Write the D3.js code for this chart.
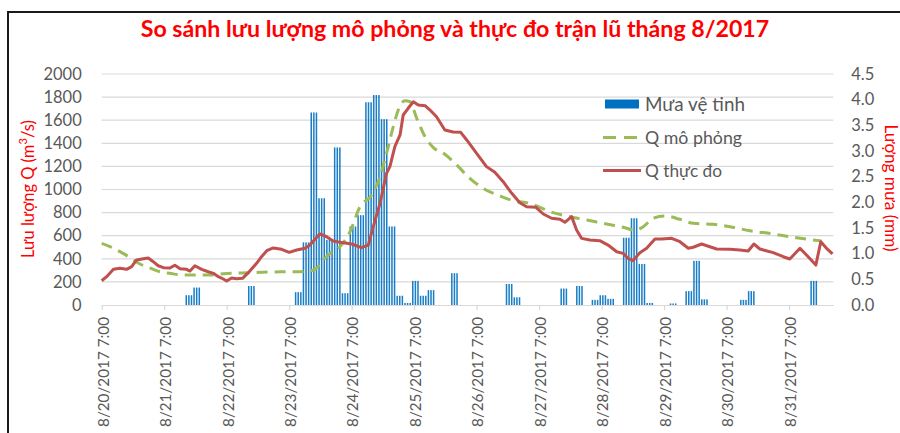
<!DOCTYPE html>
<html>
<head>
<meta charset="utf-8">
<script src="https://cdn.jsdelivr.net/npm/d3@7"></script>
<style>
  body { margin: 0; background: #fff; }
  text { font-family: Lato, "Noto Sans", sans-serif; }
</style>
</head>
<body>
<div id="chart"></div>
<script>
// tick labels on the time axis (one per day)
var dayLabels = ["8/20/2017 7:00", "8/21/2017 7:00", "8/22/2017 7:00", "8/23/2017 7:00",
                 "8/24/2017 7:00", "8/25/2017 7:00", "8/26/2017 7:00", "8/27/2017 7:00",
                 "8/28/2017 7:00", "8/29/2017 7:00", "8/30/2017 7:00", "8/31/2017 7:00"];

var qTicks = [0, 200, 400, 600, 800, 1000, 1200, 1400, 1600, 1800, 2000];
var rainTicks = [0, 0.5, 1, 1.5, 2, 2.5, 3, 3.5, 4, 4.5];

// satellite rain (mm), one value per 3 hours, first block starts 8/20 9:00 (hour 2)
var rain3h = [0, 0, 0, 0, 0, 0, 0, 0, 0, 0,
              0.19, 0.34, 0, 0, 0, 0, 0, 0, 0.37, 0,
              0, 0, 0, 0, 0.25, 1.22, 3.75, 2.08, 1.27, 3.07,
              0.23, 1.53, 1.75, 3.95, 4.09, 3.62, 1.53, 0.18, 0.04, 0.47,
              0.18, 0.29, 0, 0, 0.62, 0, 0, 0, 0, 0,
              0, 0.41, 0.15, 0, 0, 0, 0, 0, 0.32, 0,
              0.37, 0, 0.1, 0.19, 0.12, 0, 1.31, 1.69, 0.8, 0.04,
              0, 0, 0.03, 0, 0.27, 0.86, 0.11, 0, 0, 0,
              0, 0.1, 0.27, 0, 0, 0, 0, 0, 0, 0,
              0.47, 0, 0];

// simulated discharge (hours after 8/20 7:00, m3/s)
var simHour = [0, 3.2, 7.7, 10.9, 14.7, 17.9, 22.4, 26.2, 31.3, 41.6, 46.7, 57, 64.6, 72.3, 78.7,
               81.9, 85.1, 87.7, 91.5, 95.4, 99.2, 103.7, 106.9, 109.4, 112, 113.9, 116.5, 118.4,
               121, 124.2, 127.3, 131.8, 135.7, 141.4, 146.5, 153, 158.1, 163.2, 168.3, 172.2,
               178.6, 186.3, 193.9, 200.3, 204.8, 208, 211.8, 216.3, 222.1, 227.2, 234.9, 241.3,
               249, 257.9, 265.6, 273.3, 276.5];
var simQ = [534, 505, 453, 410, 355, 326, 288, 274, 260, 260, 271, 280, 286, 288, 292,
            309, 390, 447, 505, 635, 851, 952, 1111, 1313, 1544, 1688, 1769, 1760,
            1616, 1457, 1365, 1305, 1227, 1097, 1010, 944, 903, 886, 846, 808,
            771, 736, 701, 673, 649, 678, 751, 771, 742, 707, 699, 678,
            643, 615, 586, 563, 554];

// observed discharge (hours after 8/20 7:00, m3/s)
var obsHour = [0, 1.9, 4.5, 7, 9.6, 11.5, 13.4, 16, 17.9, 19.8, 21.7, 23.7, 26.2, 28.1, 30.1,
               32.6, 33.9, 35.8, 38.4, 40.9, 42.9, 44.8, 46.7, 48, 49.9, 51.8, 54.1, 56.3, 59.5,
               61.4, 63.4, 65.9, 69.1, 72, 74.9, 78.1, 80, 81.9, 83.8, 86.4, 88.9, 90.9, 96,
               99.8, 102.4, 104.3, 106.9, 109.4, 110.7, 112.6, 114.6, 115.8, 117.7, 119.7, 121.6,
               124.2, 126.1, 128.6, 131.8, 135, 137.9, 140.2, 144, 147.8, 151, 154.2, 157.5,
               160.6, 163.2, 166.8, 169.6, 172.8, 176, 177.9, 180.5, 182.4, 184.3, 187.5, 191.3,
               194.5, 197.8, 200.3, 202.2, 204.1, 206.7, 209.3, 212.5, 215.1, 218.9, 222.1, 225.3,
               227.2, 230.4, 236.2, 241.3, 245.1, 248.3, 250.5, 252.8, 257.9, 261.8, 264.3, 268.2,
               270.7, 274.3, 276.2, 278.4, 280.7];
var obsQ = [210, 245, 309, 318, 309, 332, 390, 401, 407, 375, 340, 323, 320, 344, 314,
            309, 294, 340, 309, 288, 274, 245, 225, 208, 234, 228, 231, 280, 361,
            418, 470, 494, 482, 456, 476, 491, 519, 569, 615, 591, 554, 545, 528,
            496, 519, 678, 880, 1140, 1198, 1371, 1472, 1645, 1703, 1760, 1732,
            1726, 1688, 1630, 1515, 1498, 1495, 1429, 1313, 1198, 1149, 1068, 967,
            886, 851, 846, 788, 751, 742, 716, 765, 649, 577, 563, 557,
            519, 461, 447, 404, 384, 453, 491, 571, 571, 577, 548, 491,
            500, 528, 485, 482, 476, 467, 528, 485, 453, 418, 398, 491,
            433, 346, 548, 491, 442];

var legendNames = ["Mưa vệ tinh", "Q mô phỏng", "Q thực đo"];

var W = 900, H = 433;
var plot = { left: 101.7, right: 833.3, top: 74, bottom: 305 };
var grey = "#595959", red = "#FF0000";
var obsColor = "#C0504D", simColor = "#9BBB59", rainColor = "#0070C0";

var svg = d3.select("#chart").append("svg")
    .attr("width", W).attr("height", H);

var x = d3.scaleLinear().domain([0, 281]).range([plot.left, plot.right]);
var yQ = d3.scaleLinear().domain([0, 2000]).range([plot.bottom, plot.top]);
var yR = d3.scaleLinear().domain([0, 4.5]).range([plot.bottom, plot.top]);

// shrink or grow the font so a text gets the width it has in the picture
function fit(sel, width) {
    var fs = parseFloat(sel.attr("font-size"));
    var w = sel.node().getComputedTextLength();
    sel.attr("font-size", (fs * width / w).toFixed(2));
    return sel;
}

// frame
svg.append("rect")
    .attr("x", 8).attr("y", 12).attr("width", 900).attr("height", 440)
    .attr("fill", "none").attr("stroke", "#1a1a1a").attr("stroke-width", 2);

// title
fit(svg.append("text")
    .attr("x", 455).attr("y", 37)
    .attr("text-anchor", "middle")
    .attr("font-size", 20).attr("font-weight", "bold")
    .attr("fill", red)
    .text("So sánh lưu lượng mô phỏng và thực đo trận lũ tháng 8/2017"), 629);

// gridlines
svg.append("g").selectAll("line")
    .data(qTicks.slice(1))
    .enter().append("line")
    .attr("x1", plot.left).attr("x2", plot.right)
    .attr("y1", function (d) { return yQ(d); })
    .attr("y2", function (d) { return yQ(d); })
    .attr("stroke", "#D9D9D9").attr("stroke-width", 1.2);

// left axis
var leftAxis = svg.append("g")
    .attr("transform", "translate(" + (plot.left - 20) + ",0)")
    .call(d3.axisLeft(yQ).tickValues(qTicks).tickSize(0).tickPadding(0)
          .tickFormat(d3.format("d")));
leftAxis.select(".domain").remove();
leftAxis.selectAll("text")
    .attr("font-size", 16.5).attr("fill", grey)
    .style("font-family", "Lato, 'Noto Sans', sans-serif");

// right axis
var rightAxis = svg.append("g")
    .attr("transform", "translate(" + (plot.right + 18) + ",0)")
    .call(d3.axisRight(yR).tickValues(rainTicks).tickSize(0).tickPadding(0)
          .tickFormat(d3.format(".1f")));
rightAxis.select(".domain").remove();
rightAxis.selectAll("text")
    .attr("font-size", 16.5).attr("fill", grey)
    .style("font-family", "Lato, 'Noto Sans', sans-serif");

// rain bars: three hourly bars for each 3-hour value
var rainHourly = [];
rain3h.forEach(function (v, k) {
    for (var j = 0; j < 3; j++) {
        if (v > 0) rainHourly.push({ hour: 2 + 3 * k + j, rain: v });
    }
});
var step = x(1) - x(0);
svg.append("g").selectAll("rect")
    .data(rainHourly)
    .enter().append("rect")
    .attr("x", function (d) { return x(d.hour) + 0.5; })
    .attr("width", step * 0.58)
    .attr("y", function (d) { return yR(d.rain); })
    .attr("height", function (d) { return plot.bottom - yR(d.rain); })
    .attr("fill", rainColor).attr("opacity", 0.9);

// x axis
var xAxis = svg.append("g")
    .attr("transform", "translate(0," + plot.bottom + ")")
    .call(d3.axisBottom(x)
          .tickValues(dayLabels.map(function (d, i) { return i * 24; }))
          .tickSize(5).tickSizeOuter(0)
          .tickFormat(function (d) { return dayLabels[d / 24]; }));
xAxis.select(".domain").attr("stroke", "#D9D9D9").attr("stroke-width", 1.2);
xAxis.selectAll(".tick line").attr("stroke", "#D9D9D9").attr("stroke-width", 1.2);
xAxis.selectAll("text")
    .attr("font-size", 15).attr("fill", grey)
    .style("font-family", "Lato, 'Noto Sans', sans-serif")
    .attr("text-anchor", "end")
    .attr("transform", "rotate(-90)")
    .attr("x", -12).attr("y", 1).attr("dy", "0.35em");
xAxis.selectAll("text").each(function () { fit(d3.select(this), 110); });

// lines
var simLine = d3.line()
    .x(function (d) { return x(d[0]); })
    .y(function (d) { return yQ(d[1]); })
    .curve(d3.curveMonotoneX);
var obsLine = d3.line()
    .x(function (d) { return x(d[0]); })
    .y(function (d) { return yQ(d[1]); });

svg.append("path")
    .datum(d3.zip(simHour, simQ))
    .attr("d", simLine)
    .attr("fill", "none").attr("stroke", simColor)
    .attr("stroke-width", 3).attr("stroke-dasharray", "11,7");

svg.append("path")
    .datum(d3.zip(obsHour, obsQ))
    .attr("d", obsLine)
    .attr("fill", "none").attr("stroke", obsColor)
    .attr("stroke-width", 3).attr("stroke-linejoin", "round");

// axis titles
var lt = svg.append("text")
    .attr("transform", "translate(28,189) rotate(-90)")
    .attr("text-anchor", "middle").attr("dominant-baseline", "central")
    .attr("font-size", 16).attr("fill", red);
lt.append("tspan").text("Lưu lượng Q (m");
lt.append("tspan").attr("font-size", 11).attr("dy", -6).text("3");
lt.append("tspan").attr("dy", 6).text("/s)");
fit(lt, 138);
lt.selectAll("tspan").filter(function (d, i) { return i == 1; })
    .attr("font-size", parseFloat(lt.attr("font-size")) * 0.68);

fit(svg.append("text")
    .attr("transform", "translate(891,188) rotate(90)")
    .attr("text-anchor", "middle").attr("dominant-baseline", "central")
    .attr("font-size", 16).attr("fill", red)
    .text("Lượng mưa (mm)"), 127);

// legend
var legend = svg.append("g");
var legendY = [104, 137.5, 170.5];
legend.append("rect")
    .attr("x", 605).attr("y", legendY[0] - 4.5).attr("width", 34).attr("height", 9)
    .attr("fill", rainColor);
legend.append("line")
    .attr("x1", 603).attr("x2", 641).attr("y1", legendY[1]).attr("y2", legendY[1])
    .attr("stroke", simColor).attr("stroke-width", 3).attr("stroke-dasharray", "13,8");
legend.append("line")
    .attr("x1", 603).attr("x2", 641).attr("y1", legendY[2]).attr("y2", legendY[2])
    .attr("stroke", obsColor).attr("stroke-width", 3);
var legendWidths = [100, 97, 77];
legendNames.forEach(function (name, i) {
    fit(legend.append("text")
        .attr("x", 645).attr("y", legendY[i])
        .attr("dy", "0.35em")
        .attr("font-size", 17).attr("fill", grey)
        .text(name), legendWidths[i]);
});
</script>
</body>
</html>
